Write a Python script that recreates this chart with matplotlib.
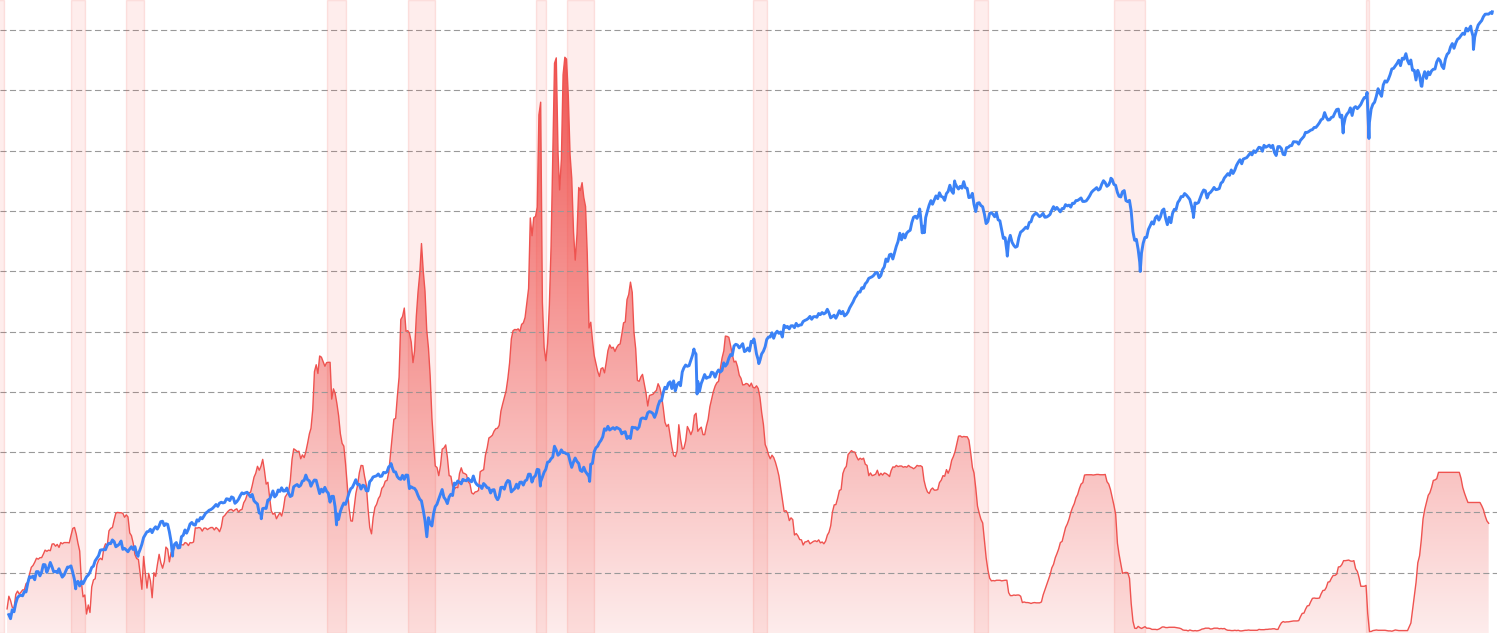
import numpy as np
import pandas as pd
import matplotlib
matplotlib.use('Agg')
import matplotlib.pyplot as plt
from matplotlib.colors import ListedColormap

# effective federal funds rate, monthly, from Jul 1954 (percent)
fed_funds = [
    0.80, 1.22, 1.07, 0.85, 0.83, 1.28,                                    # 1954 Jul-Dec
    1.39, 1.29, 1.35, 1.43, 1.43, 1.64, 1.68, 1.96, 2.18, 2.24, 2.35, 2.48,  # 1955
    2.45, 2.50, 2.50, 2.62, 2.75, 2.71, 2.75, 2.73, 2.95, 2.96, 2.88, 2.94,  # 1956
    2.84, 3.00, 2.96, 3.00, 3.00, 3.00, 2.99, 3.24, 3.47, 3.50, 3.28, 2.98,  # 1957
    2.72, 1.67, 1.20, 1.26, 0.63, 0.93, 0.68, 1.53, 1.76, 1.80, 2.27, 2.42,  # 1958
    2.48, 2.43, 2.80, 2.96, 2.90, 3.39, 3.47, 3.50, 3.76, 3.98, 4.00, 3.99,  # 1959
    3.99, 3.97, 3.84, 3.92, 3.85, 3.32, 3.23, 2.98, 2.60, 2.47, 2.44, 1.98,  # 1960
    1.45, 2.54, 2.02, 1.49, 1.98, 1.73, 1.17, 2.00, 1.88, 2.26, 2.61, 2.33,  # 1961
    2.15, 2.37, 2.85, 2.78, 2.36, 2.68, 2.71, 2.93, 2.90, 2.90, 2.94, 2.93,  # 1962
    2.92, 3.00, 2.98, 2.90, 3.00, 2.99, 3.02, 3.49, 3.48, 3.50, 3.48, 3.38,  # 1963
    3.48, 3.48, 3.43, 3.47, 3.50, 3.50, 3.42, 3.50, 3.45, 3.36, 3.52, 3.85,  # 1964
    3.90, 3.98, 4.04, 4.09, 4.10, 4.04, 4.09, 4.12, 4.01, 4.08, 4.10, 4.32,  # 1965
    4.42, 4.60, 4.65, 4.67, 4.90, 5.17, 5.30, 5.53, 5.40, 5.53, 5.76, 5.40,  # 1966
    4.94, 5.00, 4.53, 4.05, 3.94, 3.98, 3.79, 3.90, 3.99, 3.88, 4.13, 4.51,  # 1967
    4.60, 4.71, 5.05, 5.76, 6.11, 6.07, 6.02, 6.03, 5.78, 5.91, 5.82, 6.02,  # 1968
    6.30, 6.61, 6.79, 7.41, 8.67, 8.90, 8.61, 9.19, 9.15, 9.00, 8.85, 8.97,  # 1969
    8.98, 8.98, 7.76, 8.10, 7.95, 7.61, 7.21, 6.61, 6.29, 6.20, 5.60, 4.90,  # 1970
    4.14, 3.72, 3.71, 4.16, 4.63, 4.91, 5.31, 5.56, 5.55, 5.20, 4.91, 4.14,  # 1971
    3.50, 3.29, 3.83, 4.17, 4.27, 4.46, 4.55, 4.80, 4.87, 5.04, 5.06, 5.33,  # 1972
    5.94, 6.58, 7.09, 7.12, 7.84, 8.49, 10.40, 10.50, 10.78, 10.01, 10.03, 9.95,  # 1973
    9.65, 8.97, 9.35, 10.51, 11.31, 11.93, 12.92, 12.01, 11.34, 10.06, 9.45, 8.53,  # 1974
    7.13, 6.24, 5.54, 5.49, 5.22, 5.55, 6.10, 6.14, 6.24, 5.82, 5.22, 5.20,  # 1975
    4.87, 4.77, 4.84, 4.82, 5.29, 5.48, 5.31, 5.29, 5.25, 5.02, 4.95, 4.65,  # 1976
    4.61, 4.68, 4.69, 4.73, 5.35, 5.39, 5.42, 5.90, 6.14, 6.47, 6.51, 6.56,  # 1977
    6.70, 6.78, 6.79, 6.89, 7.36, 7.60, 7.81, 8.04, 8.45, 8.96, 9.76, 10.03,  # 1978
    10.07, 10.06, 10.09, 10.01, 10.24, 10.29, 10.47, 10.94, 11.43, 13.77, 13.18, 13.78,  # 1979
    13.82, 14.13, 17.19, 17.61, 10.98, 9.47, 9.03, 9.61, 10.87, 12.81, 15.85, 18.90,  # 1980
    19.08, 15.93, 14.70, 15.72, 18.52, 19.10, 19.04, 17.82, 15.87, 15.08, 13.31, 12.37,  # 1981
    13.22, 14.78, 14.68, 14.94, 14.45, 14.15, 12.59, 10.12, 10.31, 9.71, 9.20, 8.95,  # 1982
    8.68, 8.51, 8.77, 8.80, 8.63, 8.98, 9.37, 9.56, 9.45, 9.48, 9.34, 9.47,  # 1983
    9.56, 9.59, 9.91, 10.29, 10.32, 11.06, 11.23, 11.64, 11.30, 9.99, 9.43, 8.38,  # 1984
    8.35, 8.50, 8.58, 8.27, 7.97, 7.53, 7.88, 7.90, 7.92, 7.99, 8.05, 8.27,  # 1985
    8.14, 7.86, 7.48, 6.99, 6.85, 6.92, 6.56, 6.17, 5.89, 5.85, 6.04, 6.91,  # 1986
    6.43, 6.10, 6.13, 6.37, 6.85, 6.73, 6.58, 6.73, 7.22, 7.29, 6.69, 6.77,  # 1987
    6.83, 6.58, 6.58, 6.87, 7.09, 7.51, 7.75, 8.01, 8.19, 8.30, 8.35, 8.76,  # 1988
    9.12, 9.36, 9.85, 9.84, 9.81, 9.53, 9.24, 8.99, 9.02, 8.84, 8.55, 8.45,  # 1989
    8.23, 8.24, 8.28, 8.26, 8.18, 8.29, 8.15, 8.13, 8.20, 8.11, 7.81, 7.31,  # 1990
    6.91, 6.25, 6.12, 5.91, 5.78, 5.90, 5.82, 5.66, 5.45, 5.21, 4.81, 4.43,  # 1991
    4.03, 4.06, 3.98, 3.73, 3.82, 3.76, 3.25, 3.30, 3.22, 3.10, 3.09, 2.92,  # 1992
    3.02, 3.03, 3.07, 2.96, 3.00, 3.04, 3.06, 3.03, 3.09, 2.99, 3.02, 2.96,  # 1993
    3.05, 3.25, 3.34, 3.56, 4.01, 4.25, 4.26, 4.47, 4.73, 4.76, 5.29, 5.45,  # 1994
    5.53, 5.92, 5.98, 6.05, 6.01, 6.00, 5.85, 5.74, 5.80, 5.76, 5.80, 5.60,  # 1995
    5.56, 5.22, 5.31, 5.22, 5.24, 5.27, 5.40, 5.22, 5.30, 5.24, 5.31, 5.29,  # 1996
    5.25, 5.19, 5.39, 5.51, 5.50, 5.56, 5.52, 5.54, 5.54, 5.50, 5.52, 5.50,  # 1997
    5.56, 5.51, 5.49, 5.45, 5.49, 5.56, 5.54, 5.55, 5.51, 5.07, 4.83, 4.68,  # 1998
    4.63, 4.76, 4.81, 4.74, 4.74, 4.76, 4.99, 5.07, 5.22, 5.20, 5.42, 5.30,  # 1999
    5.45, 5.73, 5.85, 6.02, 6.27, 6.53, 6.54, 6.50, 6.52, 6.51, 6.51, 6.40,  # 2000
    5.98, 5.49, 5.31, 4.80, 4.21, 3.97, 3.77, 3.65, 3.07, 2.49, 2.09, 1.82,  # 2001
    1.73, 1.74, 1.73, 1.75, 1.75, 1.75, 1.73, 1.74, 1.75, 1.75, 1.34, 1.24,  # 2002
    1.24, 1.26, 1.25, 1.26, 1.26, 1.22, 1.01, 1.03, 1.01, 1.01, 1.00, 0.98,  # 2003
    1.00, 1.01, 1.00, 1.00, 1.00, 1.03, 1.26, 1.43, 1.61, 1.76, 1.93, 2.16,  # 2004
    2.28, 2.50, 2.63, 2.79, 3.00, 3.04, 3.26, 3.50, 3.62, 3.78, 4.00, 4.16,  # 2005
    4.29, 4.49, 4.59, 4.79, 4.94, 4.99, 5.24, 5.25, 5.25, 5.25, 5.25, 5.24,  # 2006
    5.25, 5.26, 5.26, 5.25, 5.25, 5.25, 5.26, 5.02, 4.94, 4.76, 4.49, 4.24,  # 2007
    3.94, 2.98, 2.61, 2.28, 1.98, 2.00, 2.01, 2.00, 1.81, 0.97, 0.39, 0.16,  # 2008
    0.15, 0.22, 0.18, 0.15, 0.18, 0.21, 0.16, 0.16, 0.15, 0.12, 0.12, 0.12,  # 2009
    0.11, 0.13, 0.16, 0.20, 0.20, 0.18, 0.18, 0.19, 0.19, 0.19, 0.19, 0.18,  # 2010
    0.17, 0.16, 0.14, 0.10, 0.09, 0.09, 0.07, 0.10, 0.08, 0.07, 0.08, 0.07,  # 2011
    0.08, 0.10, 0.13, 0.14, 0.16, 0.16, 0.16, 0.13, 0.14, 0.16, 0.16, 0.16,  # 2012
    0.14, 0.15, 0.14, 0.15, 0.11, 0.09, 0.09, 0.08, 0.08, 0.09, 0.08, 0.09,  # 2013
    0.07, 0.07, 0.08, 0.09, 0.09, 0.10, 0.09, 0.09, 0.09, 0.09, 0.09, 0.12,  # 2014
    0.11, 0.11, 0.11, 0.12, 0.12, 0.13, 0.13, 0.14, 0.14, 0.12, 0.12, 0.24,  # 2015
    0.34, 0.38, 0.36, 0.37, 0.37, 0.38, 0.39, 0.40, 0.40, 0.40, 0.41, 0.54,  # 2016
    0.65, 0.66, 0.79, 0.90, 0.91, 1.04, 1.15, 1.16, 1.15, 1.15, 1.16, 1.30,  # 2017
    1.41, 1.42, 1.51, 1.69, 1.70, 1.82, 1.91, 1.91, 1.95, 2.19, 2.20, 2.27,  # 2018
    2.40, 2.40, 2.41, 2.42, 2.39, 2.38, 2.40, 2.13, 2.04, 1.83, 1.55, 1.55,  # 2019
    1.55, 1.58, 0.65, 0.05, 0.05, 0.08, 0.09, 0.10, 0.09, 0.09, 0.09, 0.09,  # 2020
    0.09, 0.08, 0.07, 0.07, 0.06, 0.08, 0.10, 0.09, 0.08, 0.08, 0.08, 0.08,  # 2021
    0.08, 0.08, 0.20, 0.33, 0.77, 1.21, 1.68, 2.33, 2.56, 3.08, 3.78, 4.10,  # 2022
    4.33, 4.57, 4.65, 4.83, 5.06, 5.08, 5.12, 5.33, 5.33, 5.33, 5.33, 5.33,  # 2023
    5.33, 5.33, 5.33, 5.33, 5.33, 5.33, 5.33, 5.33, 5.13, 4.83, 4.64, 4.48,  # 2024
    4.33, 4.33, 4.33, 4.33, 4.33, 4.33, 4.33, 4.33, 4.22, 4.09, 3.88, 3.72,  # 2025
    3.64,                                                                  # 2026 Jan
]

# S&P 500 month-end closes, from Jul 1954
sp500_close = [
    30.9, 29.8, 32.3, 31.7, 34.2, 36.0,                                    # 1954 Jul-Dec
    36.6, 36.8, 36.6, 38.0, 37.9, 41.0, 43.5, 43.2, 43.7, 42.3, 45.5, 45.5,  # 1955
    43.8, 45.3, 48.5, 48.4, 45.2, 47.0, 49.4, 47.5, 45.4, 45.6, 45.1, 46.7,  # 1956
    44.7, 43.3, 44.1, 45.7, 47.4, 47.4, 47.9, 45.2, 42.4, 41.1, 41.7, 40.0,  # 1957
    41.7, 40.8, 42.1, 43.4, 44.1, 45.2, 47.2, 47.8, 50.1, 51.3, 52.5, 55.2,  # 1958
    55.4, 55.4, 55.4, 57.6, 58.7, 58.5, 60.5, 59.6, 56.9, 57.5, 58.3, 59.9,  # 1959
    55.6, 56.1, 55.3, 54.4, 55.8, 56.9, 55.5, 57.0, 53.5, 53.4, 55.5, 58.1,  # 1960
    61.8, 63.4, 65.1, 65.3, 66.6, 64.6, 66.8, 68.1, 66.7, 68.6, 71.3, 71.6,  # 1961
    68.8, 70.0, 69.6, 65.2, 59.6, 54.8, 58.2, 59.1, 56.3, 56.5, 62.3, 63.1,  # 1962
    66.2, 64.3, 66.6, 69.8, 70.8, 69.4, 69.1, 72.5, 71.7, 74.0, 73.2, 75.0,  # 1963
    77.0, 77.8, 79.0, 79.5, 80.4, 81.7, 83.2, 81.8, 84.2, 84.9, 84.4, 84.8,  # 1964
    87.6, 87.4, 86.2, 89.1, 88.4, 84.1, 85.3, 87.2, 90.0, 92.4, 91.6, 92.4,  # 1965
    92.9, 91.2, 89.2, 91.1, 86.1, 84.7, 83.6, 77.1, 76.6, 80.2, 80.5, 80.3,  # 1966
    86.6, 86.8, 90.2, 94.0, 89.1, 90.6, 94.8, 93.6, 96.7, 93.9, 94.0, 96.5,  # 1967
    92.2, 89.4, 90.2, 97.6, 98.7, 99.6, 97.7, 98.9, 102.7, 103.4, 108.4, 103.9,  # 1968
    103.0, 98.1, 101.5, 103.7, 103.5, 97.7, 91.8, 95.5, 93.1, 97.1, 93.8, 92.1,  # 1969
    85.0, 89.5, 89.6, 81.5, 76.6, 72.7, 78.1, 81.5, 84.3, 83.3, 87.2, 92.2,  # 1970
    95.9, 97.0, 100.3, 104.0, 99.6, 99.7, 95.6, 99.0, 98.3, 94.2, 94.0, 102.1,  # 1971
    103.9, 106.6, 107.2, 107.7, 109.5, 107.1, 107.4, 111.1, 110.6, 111.6, 116.7, 118.1,  # 1972
    116.0, 111.7, 111.5, 107.0, 105.0, 104.3, 108.2, 104.3, 108.4, 108.3, 96.0, 97.6,  # 1973
    96.6, 96.2, 94.0, 90.3, 87.3, 86.0, 79.3, 72.2, 63.5, 73.9, 70.0, 68.6,  # 1974
    77.0, 81.6, 83.4, 87.3, 91.2, 95.2, 88.8, 86.9, 83.9, 89.0, 91.2, 90.2,  # 1975
    100.9, 99.7, 102.8, 101.6, 100.2, 104.3, 103.4, 103.0, 105.2, 102.9, 102.1, 107.5,  # 1976
    102.0, 99.8, 98.4, 98.4, 96.1, 100.5, 98.9, 96.8, 96.5, 92.3, 94.8, 95.1,  # 1977
    89.3, 87.0, 89.2, 97.0, 97.2, 95.5, 100.7, 103.3, 102.5, 93.2, 94.7, 96.1,  # 1978
    99.9, 96.3, 101.6, 101.8, 99.1, 102.9, 103.8, 109.3, 109.3, 101.8, 106.2, 107.9,  # 1979
    114.2, 113.7, 102.1, 106.3, 111.2, 114.2, 121.7, 122.4, 125.5, 127.5, 140.5, 135.8,  # 1980
    129.6, 131.3, 136.0, 132.8, 132.6, 131.2, 130.9, 122.8, 116.2, 121.9, 126.4, 122.6,  # 1981
    120.4, 113.1, 112.0, 116.4, 111.9, 109.6, 107.1, 119.5, 120.4, 133.7, 138.5, 140.6,  # 1982
    145.3, 148.1, 153.0, 164.4, 162.4, 168.1, 162.6, 164.4, 166.1, 163.6, 166.4, 164.9,  # 1983
    163.4, 157.1, 159.2, 160.1, 150.6, 153.2, 150.7, 166.7, 166.1, 166.1, 163.6, 167.2,  # 1984
    179.6, 181.2, 180.7, 179.8, 189.6, 191.9, 190.9, 188.6, 182.1, 189.8, 202.2, 211.3,  # 1985
    211.8, 226.9, 238.9, 235.5, 247.4, 250.8, 236.1, 252.9, 231.3, 244.0, 249.2, 242.2,  # 1986
    274.1, 284.2, 291.7, 288.4, 290.1, 304.0, 318.7, 329.8, 321.8, 251.8, 230.3, 247.1,  # 1987
    257.1, 267.8, 258.9, 261.3, 262.2, 273.5, 272.0, 261.5, 271.9, 279.0, 273.7, 277.7,  # 1988
    297.5, 288.9, 294.9, 309.6, 320.5, 318.0, 346.1, 351.5, 349.2, 340.4, 346.0, 353.4,  # 1989
    329.1, 331.9, 339.9, 330.8, 361.2, 358.0, 356.2, 322.6, 306.1, 304.0, 322.2, 330.2,  # 1990
    343.9, 367.1, 375.2, 375.3, 389.8, 371.2, 387.8, 395.4, 387.9, 392.5, 375.2, 417.1,  # 1991
    408.8, 412.7, 403.7, 415.0, 415.4, 408.1, 424.2, 414.0, 417.8, 418.7, 431.4, 435.7,  # 1992
    438.8, 443.4, 451.7, 440.2, 450.2, 451.0, 448.1, 463.6, 458.9, 467.8, 461.8, 466.5,  # 1993
    481.6, 467.1, 445.8, 450.9, 456.5, 444.3, 458.3, 475.5, 462.7, 472.4, 453.7, 459.3,  # 1994
    470.4, 487.4, 500.7, 514.7, 533.4, 544.8, 562.1, 561.9, 584.4, 581.5, 605.4, 615.9,  # 1995
    636.0, 640.4, 645.5, 654.2, 669.1, 670.6, 640.0, 652.0, 687.3, 705.3, 757.0, 740.7,  # 1996
    786.2, 790.8, 757.1, 801.3, 848.3, 885.1, 954.3, 899.5, 947.3, 914.6, 955.4, 970.4,  # 1997
    980.3, 1049.3, 1101.8, 1111.8, 1090.8, 1133.8, 1120.7, 957.3, 1017.0, 1098.7, 1163.6, 1229.2,  # 1998
    1279.6, 1238.3, 1286.4, 1335.2, 1301.8, 1372.7, 1328.7, 1320.4, 1282.7, 1362.9, 1388.9, 1469.3,  # 1999
    1394.5, 1366.4, 1498.6, 1452.4, 1420.6, 1454.6, 1430.8, 1517.7, 1436.5, 1429.4, 1315.2, 1320.3,  # 2000
    1366.0, 1239.9, 1160.3, 1249.5, 1255.8, 1224.4, 1211.2, 1133.6, 1040.9, 1059.8, 1139.5, 1148.1,  # 2001
    1130.2, 1106.7, 1147.4, 1076.9, 1067.1, 989.8, 911.6, 916.1, 815.3, 885.8, 936.3, 879.8,  # 2002
    855.7, 841.2, 848.2, 916.9, 963.6, 974.5, 990.3, 1008.0, 996.0, 1050.7, 1058.2, 1111.9,  # 2003
    1131.1, 1144.9, 1126.2, 1107.3, 1120.7, 1140.8, 1101.7, 1104.2, 1114.6, 1130.2, 1173.8, 1211.9,  # 2004
    1181.3, 1203.6, 1180.6, 1156.9, 1191.5, 1191.3, 1234.2, 1220.3, 1228.8, 1207.0, 1249.5, 1248.3,  # 2005
    1280.1, 1280.7, 1294.9, 1310.6, 1270.1, 1270.2, 1276.7, 1303.8, 1335.9, 1377.9, 1400.6, 1418.3,  # 2006
    1438.2, 1406.8, 1420.9, 1482.4, 1530.6, 1503.4, 1455.3, 1474.0, 1526.8, 1549.4, 1481.1, 1468.4,  # 2007
    1378.6, 1330.6, 1322.7, 1385.6, 1400.4, 1280.0, 1267.4, 1282.8, 1166.4, 968.8, 896.2, 903.3,  # 2008
    825.9, 735.1, 797.9, 872.8, 919.1, 919.3, 987.5, 1020.6, 1057.1, 1036.2, 1095.6, 1115.1,  # 2009
    1073.9, 1104.5, 1169.4, 1186.7, 1089.4, 1030.7, 1101.6, 1049.3, 1141.2, 1183.3, 1180.6, 1257.6,  # 2010
    1286.1, 1327.2, 1325.8, 1363.6, 1345.2, 1320.6, 1292.3, 1218.9, 1131.4, 1253.3, 1247.0, 1257.6,  # 2011
    1312.4, 1365.7, 1408.5, 1397.9, 1310.3, 1362.2, 1379.3, 1406.6, 1440.7, 1412.2, 1416.2, 1426.2,  # 2012
    1498.1, 1514.7, 1569.2, 1597.6, 1630.7, 1606.3, 1685.7, 1633.0, 1681.6, 1756.5, 1805.8, 1848.4,  # 2013
    1782.6, 1859.5, 1872.3, 1884.0, 1923.6, 1960.2, 1930.7, 2003.4, 1972.3, 2018.1, 2067.6, 2058.9,  # 2014
    1995.0, 2104.5, 2067.9, 2085.5, 2107.4, 2063.1, 2103.8, 1972.2, 1920.0, 2079.4, 2080.4, 2043.9,  # 2015
    1940.2, 1932.2, 2059.7, 2065.3, 2097.0, 2098.9, 2173.6, 2171.0, 2168.3, 2126.2, 2198.8, 2238.8,  # 2016
    2278.9, 2363.6, 2362.7, 2384.2, 2411.8, 2423.4, 2470.3, 2471.7, 2519.4, 2575.3, 2647.6, 2673.6,  # 2017
    2823.8, 2713.8, 2640.9, 2648.1, 2705.3, 2718.4, 2816.3, 2901.5, 2914.0, 2711.7, 2760.2, 2506.9,  # 2018
    2704.1, 2784.5, 2834.4, 2945.8, 2752.1, 2941.8, 2980.4, 2926.5, 2976.7, 3037.6, 3141.0, 3230.8,  # 2019
    3225.5, 2954.2, 2584.6, 2912.4, 3044.3, 3100.3, 3271.1, 3500.3, 3363.0, 3270.0, 3621.6, 3756.1,  # 2020
    3714.2, 3811.2, 3972.9, 4181.2, 4204.1, 4297.5, 4395.3, 4522.7, 4307.5, 4605.4, 4567.0, 4766.2,  # 2021
    4515.6, 4373.9, 4530.4, 4131.9, 4132.2, 3785.4, 4130.3, 3955.0, 3585.6, 3872.0, 4080.1, 3839.5,  # 2022
    4076.6, 3970.2, 4109.3, 4169.5, 4179.8, 4450.4, 4589.0, 4507.7, 4288.1, 4193.8, 4567.8, 4769.8,  # 2023
    4845.7, 5096.3, 5254.4, 5035.7, 5277.5, 5460.5, 5522.3, 5648.4, 5762.5, 5705.5, 6032.4, 5881.6,  # 2024
    6040.5, 5954.5, 5611.9, 5569.1, 5911.7, 6205.0, 6339.4, 6460.3, 6688.5, 6840.2, 6849.1, 6845.5,  # 2025
    6940.0, 6880.0,                                                        # 2026 Jan-Feb
]

# daily highs and lows the month-end closes miss
sp500_extreme_dates = [
    '1957-10-22', '1960-10-25', '1962-06-26', '1966-10-07', '1968-11-29',
    '1970-05-26', '1973-01-11', '1974-10-03', '1978-03-06', '1980-03-27',
    '1982-08-12', '1987-08-25', '1987-10-19', '1990-07-16', '1990-10-11',
    '1998-07-17', '1998-10-08', '2000-03-24', '2002-10-09', '2007-10-09',
    '2009-03-09', '2011-10-03', '2018-12-24', '2020-02-19', '2020-03-23',
    '2022-01-03', '2022-10-12', '2025-02-19', '2025-04-08', '2026-03-06',
]
sp500_extreme_values = [
    38.98, 52.20, 52.32, 73.20, 108.37,
    69.29, 120.24, 62.28, 86.90, 98.22,
    102.42, 336.77, 224.84, 368.95, 295.46,
    1186.75, 959.44, 1527.46, 776.76, 1565.15,
    676.53, 1099.23, 2351.10, 3386.15, 2237.40,
    4796.56, 3577.03, 6144.15, 4982.77, 6990.0,
]

# NBER recessions
recession_starts = ['1953-07-01', '1957-08-01', '1960-04-01', '1969-12-01', '1973-11-01', '1980-01-01',
                    '1981-07-01', '1990-07-01', '2001-03-01', '2007-12-01', '2020-02-01']
recession_ends = ['1954-05-01', '1958-04-01', '1961-02-01', '1970-11-01', '1975-03-01', '1980-07-01',
                  '1982-11-01', '1991-03-01', '2001-11-01', '2009-06-01', '2020-04-01']

fed_dates = pd.date_range('1954-07-01', periods=len(fed_funds), freq='MS')
sp_dates = pd.date_range('1954-07-01', periods=len(sp500_close), freq='MS') + pd.offsets.MonthEnd(0)
sp = pd.Series(sp500_close, index=sp_dates)
sp = pd.concat([sp, pd.Series(sp500_extreme_values, index=pd.to_datetime(sp500_extreme_dates))]).sort_index()

x_left = pd.Timestamp('1954-02-26')
x_right = pd.Timestamp('2026-05-28')

fig = plt.figure(figsize=(15, 6.33), dpi=100)
ax = fig.add_axes([0, 0, 1497 / 1500, 1])

# gradient fill under the rate
red = np.array([239, 83, 80]) / 255
levels = np.linspace(0, 21, 256)
alpha = np.clip(0.11 + 0.045 * levels, 0, 1)
cmap = ListedColormap(1 - alpha[:, None] * (1 - red))
fill = ax.fill_between(fed_dates, 0, fed_funds, facecolor='none', edgecolor='none')
x0n, x1n = matplotlib.dates.date2num([x_left, x_right])
im = ax.imshow(levels.reshape(-1, 1), cmap=cmap, origin='lower', aspect='auto',
               extent=[x0n, x1n, 0, 21], zorder=1)
im.set_clip_path(fill.get_paths()[0], transform=ax.transData)

for s, e in zip(recession_starts, recession_ends):
    ax.axvspan(pd.Timestamp(s), pd.Timestamp(e), facecolor=(0.96, 0.26, 0.21, 0.09),
               edgecolor=(0.96, 0.26, 0.21, 0.13), lw=1, zorder=2)

ax.plot(fed_dates, fed_funds, color='#ef5350', lw=1.0, zorder=3)

ax.set_xlim(x_left, x_right)
ax.set_ylim(0, 21)
ax.set_yticks(range(2, 21, 2))
ax.grid(axis='y', color='#999999', lw=0.8, linestyle=(0, (5.5, 3)))
ax.grid(axis='x', visible=False)
ax.tick_params(length=0, labelleft=False, labelbottom=False)
for sp_ in ax.spines.values():
    sp_.set_visible(False)

ax2 = ax.twinx()
ax2.plot(sp.index, sp.values, color='#3b82f6', lw=2.1, zorder=4)
ax2.set_yscale('log')
ax2.set_ylim(26.2, 7774)
ax2.set_xlim(x_left, x_right)
ax2.tick_params(which='both', length=0, labelright=False, labelleft=False)
ax2.yaxis.set_minor_formatter(plt.NullFormatter())
ax2.yaxis.set_major_formatter(plt.NullFormatter())
for sp_ in ax2.spines.values():
    sp_.set_visible(False)

fig.savefig('out.png', dpi=100)
